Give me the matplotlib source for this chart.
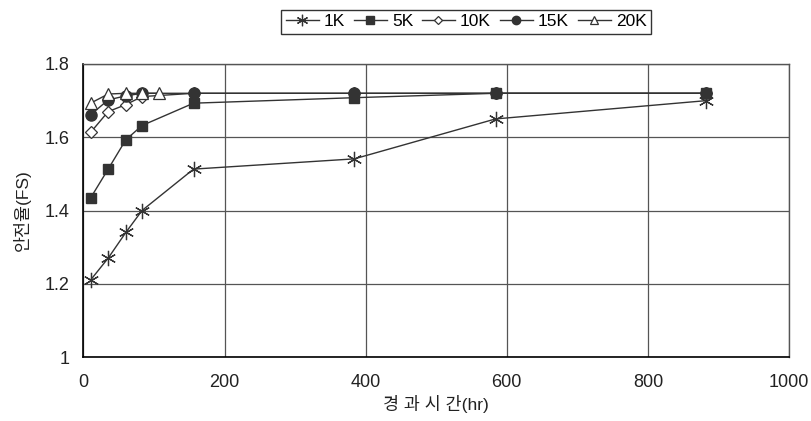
import matplotlib.pyplot as plt
import numpy as np

plt.rcParams['font.family'] = ['Liberation Sans', 'Noto Sans CJK KR']

# elapsed time (hr) and factor of safety for each series
t_1k = [10, 35, 60, 83, 156, 384, 584, 883]
fs_1k = [1.21, 1.27, 1.34, 1.40, 1.513, 1.541, 1.65, 1.70]

t_5k = [10, 35, 60, 83, 156, 384, 584, 883]
fs_5k = [1.434, 1.513, 1.593, 1.632, 1.693, 1.708, 1.72, 1.72]

t_10k = [10, 35, 60, 83, 156, 384, 584, 883]
fs_10k = [1.613, 1.670, 1.689, 1.711, 1.72, 1.72, 1.72, 1.72]

t_15k = [10, 35, 60, 83, 156, 384, 584, 883]
fs_15k = [1.661, 1.702, 1.713, 1.72, 1.72, 1.72, 1.72, 1.72]

t_20k = [10, 35, 60, 83, 107]
fs_20k = [1.693, 1.718, 1.72, 1.72, 1.72]

col = '#333333'

fig = plt.figure(figsize=(8.12, 4.21), dpi=100)
ax = fig.add_axes([0.1028, 0.152, 0.8689, 0.696])

ax.plot(t_1k, fs_1k, color=col, lw=1, marker=(6, 2, 0), ms=11, mew=0.9,
        label='1K')
ax.plot(t_5k, fs_5k, color=col, lw=1, marker='s', ms=7.5, label='5K')
ax.plot(t_10k, fs_10k, color=col, lw=1, marker='D', ms=6, mfc='white',
        mew=0.9, label='10K')
ax.plot(t_15k, fs_15k, color=col, lw=1, marker='o', ms=8, label='15K')
ax.plot(t_20k, fs_20k, color=col, lw=1, marker='^', ms=8, mfc='white',
        mew=0.9, label='20K')

ax.set_xlim(0, 1000)
ax.set_ylim(1, 1.8)
ax.set_xticks(np.arange(0, 1001, 200))
ax.set_yticks([1, 1.2, 1.4, 1.6, 1.8])
ax.set_yticklabels(['1', '1.2', '1.4', '1.6', '1.8'])
ax.grid(True, color='#555555', lw=0.9)
ax.set_axisbelow(True)
ax.tick_params(labelsize=13, length=0, pad=12, colors='#222222')
ax.tick_params(axis='y', pad=10)

for s in ['left', 'bottom']:
    ax.spines[s].set_color('black')
    ax.spines[s].set_linewidth(1.2)
for s in ['top', 'right']:
    ax.spines[s].set_color('#555555')
    ax.spines[s].set_linewidth(1.0)

ax.set_xlabel('경 과 시 간(hr)', fontsize=12.5, labelpad=3, color='#222222')
ax.set_ylabel('안전율(FS)', fontsize=12.5, labelpad=10, color='#222222')

h, l = ax.get_legend_handles_labels()
leg = fig.legend(h, l, loc='center', bbox_to_anchor=(0.574, 0.948), ncol=5,
                 fontsize=12.5, frameon=True, fancybox=False,
                 handlelength=1.9, handletextpad=0.3, columnspacing=0.5,
                 borderpad=0.25, markerscale=0.75)
leg.get_frame().set_edgecolor('black')
leg.get_frame().set_linewidth(1.0)

plt.savefig('out.png', dpi=100)
